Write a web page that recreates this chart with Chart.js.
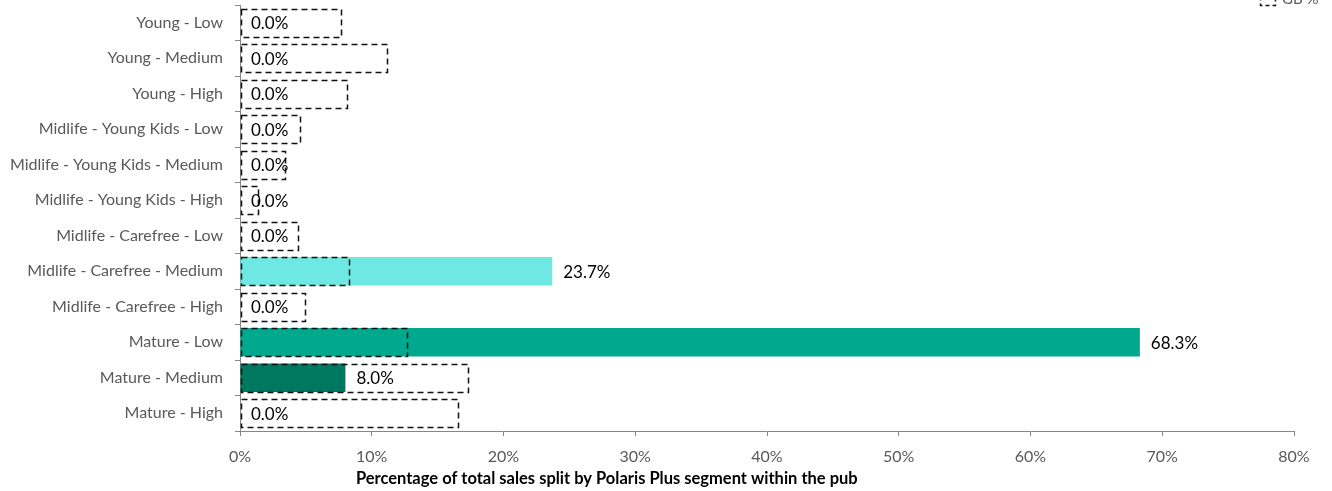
<!DOCTYPE html>
<html>
<head>
<meta charset="utf-8">
<script src="https://cdn.jsdelivr.net/npm/chart.js@4.4.1/dist/chart.umd.min.js"></script>
<style>
  html, body { margin: 0; padding: 0; background: #fff; overflow: hidden; }
  #chart-segments { display: block; }
</style>
</head>
<body>
<canvas id="chart-segments" width="1332" height="491"></canvas>
<script>
/* ── DATA ── */
const SEGMENTS = [
  'Young - Low', 'Young - Medium', 'Young - High',
  'Midlife - Young Kids - Low', 'Midlife - Young Kids - Medium', 'Midlife - Young Kids - High',
  'Midlife - Carefree - Low', 'Midlife - Carefree - Medium', 'Midlife - Carefree - High',
  'Mature - Low', 'Mature - Medium', 'Mature - High',
];
// share of the pub's sales (%)
const PUB_PCT = [0, 0, 0, 0, 0, 0, 0, 23.7, 0, 68.3, 8.0, 0];
// national benchmark (%)
const GB_PCT  = [7.6, 11.1, 8.1, 4.5, 3.4, 1.3, 4.4, 8.2, 4.9, 12.6, 17.3, 16.5];
const SEGMENT_COLORS = [
  '#9FE3F5', '#4FC3E8', '#1B8FC0',
  '#B9E6A8', '#7CCB62', '#3E9A2E',
  '#A8F0EC', '#6EE8E2', '#36C9C2',
  '#00A98E', '#00775F', '#004D3E',
];
const X_TICKS = [0, 10, 20, 30, 40, 50, 60, 70, 80];

const FONT = 'Lato, "Open Sans", sans-serif';
const AXIS_GREY = '#868686';
const TEXT_GREY = '#595959';

/* ── PLUGINS ── */
// dashed outlines for the GB bars (bar elements have no borderDash of their own)
const dashedBars = {
  id: 'dashedBars',
  afterDatasetsDraw(chart) {
    const meta = chart.getDatasetMeta(1);
    const ctx = chart.ctx;
    ctx.save();
    ctx.strokeStyle = '#111';
    ctx.lineWidth = 1.5;
    ctx.setLineDash([6, 4]);
    meta.data.forEach(bar => {
      const { x, y, base, height } = bar.getProps(['x', 'y', 'base', 'height'], true);
      ctx.strokeRect(Math.round(base) + 0.5, Math.round(y - height / 2) + 0.5,
                     Math.round(x - base), Math.round(height));
    });
    ctx.restore();
  },
};

// value labels at the end of each pub bar
const valueLabels = {
  id: 'valueLabels',
  afterDatasetsDraw(chart) {
    const meta = chart.getDatasetMeta(0);
    const ctx = chart.ctx;
    ctx.save();
    ctx.font = `17px ${FONT}`;
    ctx.fillStyle = '#000';
    ctx.textAlign = 'left';
    ctx.textBaseline = 'middle';
    meta.data.forEach((bar, i) => {
      ctx.fillText(`${PUB_PCT[i].toFixed(1)}%`, bar.x + 11, bar.y + 1);
    });
    ctx.restore();
  },
};

// axis title + legend entry
const extras = {
  id: 'extras',
  afterDraw(chart) {
    const ctx = chart.ctx;
    const area = chart.chartArea;
    ctx.save();
    ctx.font = `bold 16.5px ${FONT}`;
    ctx.fillStyle = '#000';
    ctx.textAlign = 'center';
    ctx.textBaseline = 'middle';
    ctx.fillText('Percentage of total sales split by Polaris Plus segment within the pub',
                 area.left + area.width * 0.348, 479);

    // legend, sitting mostly above the canvas edge
    ctx.strokeStyle = '#111';
    ctx.lineWidth = 1.5;
    ctx.setLineDash([4, 3]);
    ctx.strokeRect(1260.5, -8.5, 15, 14);
    ctx.setLineDash([]);
    ctx.font = `15px ${FONT}`;
    ctx.fillStyle = TEXT_GREY;
    ctx.textAlign = 'left';
    ctx.textBaseline = 'alphabetic';
    ctx.fillText('GB %', 1282, 4);
    ctx.restore();
  },
};

/* ── CHART ── */
new Chart(document.getElementById('chart-segments').getContext('2d'), {
  type: 'bar',
  data: {
    labels: SEGMENTS,
    datasets: [
      {
        label: 'Pub %',
        data: PUB_PCT,
        backgroundColor: SEGMENT_COLORS,
        borderWidth: 0,
        grouped: false,
        order: 2,
      },
      {
        label: 'GB %',
        data: GB_PCT,
        backgroundColor: 'rgba(0,0,0,0)',
        borderWidth: 0,
        grouped: false,
        order: 1,
      },
    ],
  },
  options: {
    indexAxis: 'y',
    responsive: false,
    animation: false,
    devicePixelRatio: 1,
    categoryPercentage: 1,
    barPercentage: 0.8,
    layout: { padding: { top: 5, right: 38, left: 0, bottom: 0 } },
    plugins: { legend: { display: false }, tooltip: { enabled: false } },
    scales: {
      x: {
        min: 0, max: 80,
        afterBuildTicks: axis => { axis.ticks = X_TICKS.map(v => ({ value: v })); },
        afterFit: axis => { axis.height = 60; },
        grid: { drawOnChartArea: false, tickLength: 5, color: AXIS_GREY },
        border: { color: AXIS_GREY, width: 1 },
        ticks: {
          callback: v => `${v}%`,
          font: { family: FONT, size: 16 },
          color: TEXT_GREY,
          padding: 11,
          maxRotation: 0,
        },
      },
      y: {
        afterFit: axis => {
          axis.width = 240;
          axis.paddingTop = 0;
          axis.paddingBottom = 0;
        },
        grid: { drawOnChartArea: false, offset: true, tickLength: 5, color: AXIS_GREY },
        border: { color: AXIS_GREY, width: 1 },
        ticks: {
          font: { family: FONT, size: 16 },
          color: TEXT_GREY,
          padding: 12,
          autoSkip: false,
        },
      },
    },
  },
  plugins: [dashedBars, valueLabels, extras],
});
</script>
</body>
</html>
